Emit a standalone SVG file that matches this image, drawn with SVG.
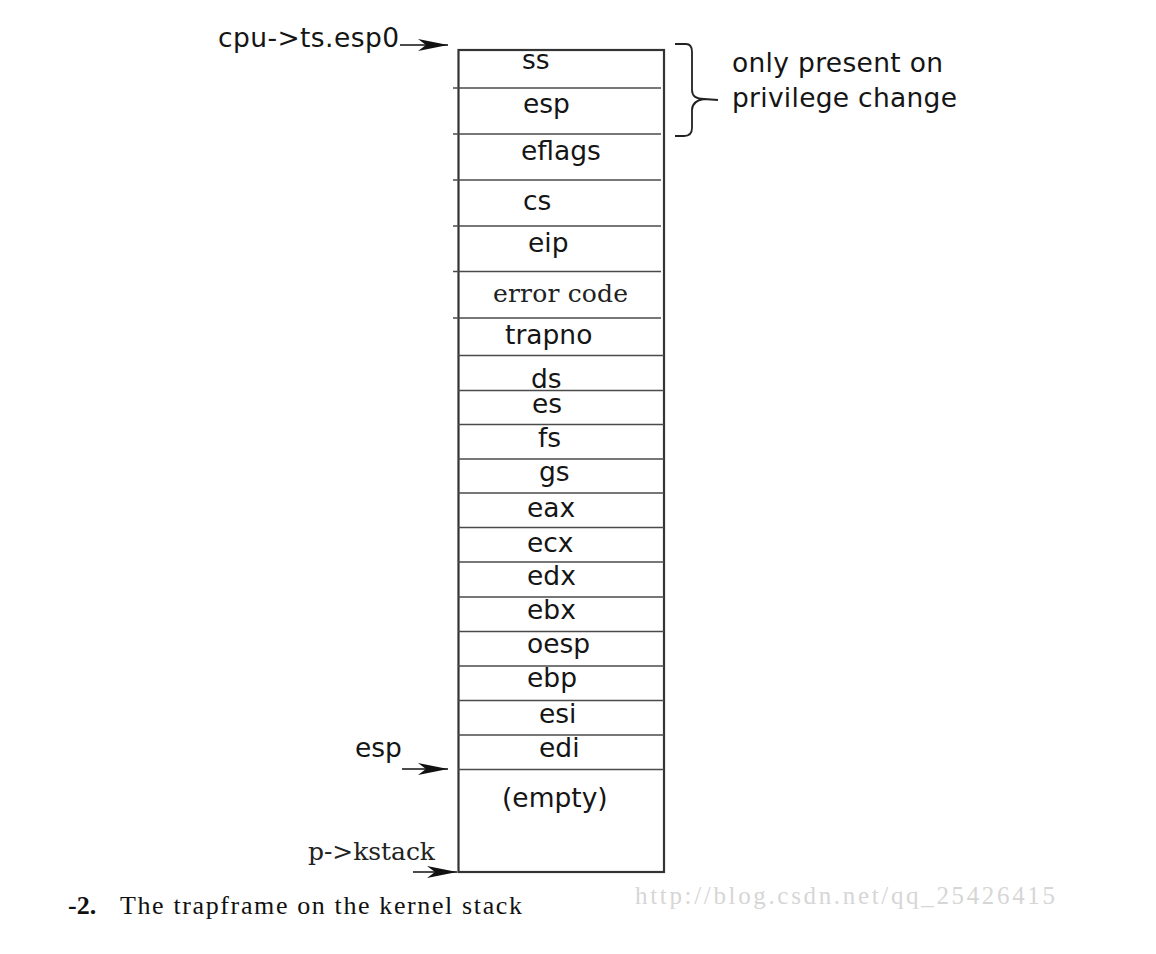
<svg xmlns="http://www.w3.org/2000/svg" width="1156" height="954" viewBox="0 0 1156 954">
<defs>
<style>
.t{font-family:"DejaVu Sans","Noto Sans",sans-serif;font-size:26.5px;fill:#151515}
.sep{stroke:#4a4a4a;stroke-width:1.4}
.box{fill:none;stroke:#333;stroke-width:2.2}
.arr{stroke:#111;stroke-width:1.6;fill:none}
.serif{font-family:"DejaVu Serif","Liberation Serif",serif;fill:#222}
</style>
<marker id="ah" viewBox="0 0 30 12" refX="30" refY="6" markerWidth="30" markerHeight="12" markerUnits="userSpaceOnUse" orient="auto">
<path d="M0,0 L30,6 L0,12 L8,6 Z" fill="#111"/>
</marker>
</defs>
<rect width="1156" height="954" fill="#fff"/>

<g id="stack">
<rect class="box" x="458.5" y="50" width="205.5" height="822"/>
<g id="row-ss"><text class="t" x="522" y="69">ss</text><line class="sep" x1="453" y1="88" x2="661" y2="88"/></g>
<g id="row-esp"><text class="t" x="523" y="113">esp</text><line class="sep" x1="453" y1="134" x2="661" y2="134"/></g>
<g id="row-eflags"><text class="t" x="521" y="160">eflags</text><line class="sep" x1="453" y1="180" x2="661" y2="180"/></g>
<g id="row-cs"><text class="t" x="523" y="210">cs</text><line class="sep" x1="453" y1="226" x2="661" y2="226"/></g>
<g id="row-eip"><text class="t" x="528" y="252">eip</text><line class="sep" x1="453" y1="271.5" x2="661" y2="271.5"/></g>
<g id="row-errorcode"><text class="serif" font-size="25" x="493" y="302" textLength="135" fill="#333">error code</text><line class="sep" x1="453" y1="318" x2="661" y2="318"/></g>
<g id="row-trapno"><text class="t" x="505" y="344">trapno</text><line class="sep" x1="458" y1="355.5" x2="664" y2="355.5"/></g>
<g id="row-ds"><text class="t" x="531" y="388">ds</text><line class="sep" x1="458" y1="390.5" x2="664" y2="390.5"/></g>
<g id="row-es"><text class="t" x="532" y="413">es</text><line class="sep" x1="458" y1="424.5" x2="664" y2="424.5"/></g>
<g id="row-fs"><text class="t" x="538" y="447">fs</text><line class="sep" x1="458" y1="459" x2="664" y2="459"/></g>
<g id="row-gs"><text class="t" x="539" y="481">gs</text><line class="sep" x1="458" y1="493" x2="664" y2="493"/></g>
<g id="row-eax"><text class="t" x="527" y="517">eax</text><line class="sep" x1="458" y1="527.5" x2="664" y2="527.5"/></g>
<g id="row-ecx"><text class="t" x="527" y="552">ecx</text><line class="sep" x1="458" y1="562" x2="664" y2="562"/></g>
<g id="row-edx"><text class="t" x="527" y="585">edx</text><line class="sep" x1="458" y1="597" x2="664" y2="597"/></g>
<g id="row-ebx"><text class="t" x="527" y="619">ebx</text><line class="sep" x1="458" y1="631.5" x2="664" y2="631.5"/></g>
<g id="row-oesp"><text class="t" x="527" y="653">oesp</text><line class="sep" x1="458" y1="666" x2="664" y2="666"/></g>
<g id="row-ebp"><text class="t" x="527" y="687">ebp</text><line class="sep" x1="458" y1="700.5" x2="664" y2="700.5"/></g>
<g id="row-esi"><text class="t" x="539" y="723">esi</text><line class="sep" x1="458" y1="735" x2="664" y2="735"/></g>
<g id="row-edi"><text class="t" x="539" y="757">edi</text><line class="sep" x1="458" y1="769.5" x2="664" y2="769.5"/></g>
<g id="row-empty"><text class="t" x="502" y="807">(empty)</text></g>
</g>

<g id="label-cpu"><text class="t" x="218" y="47" textLength="181">cpu-&gt;ts.esp0</text></g>
<g id="label-esp"><text class="t" x="355" y="757">esp</text></g>
<g id="label-kstack"><text class="serif" font-size="25" x="308" y="860" textLength="127" fill="#111">p-&gt;kstack</text></g>

<g id="note">
<path d="M675,44 L686,44 Q692,44 692,52 L692,90 Q692,99 704,99 L718,100 M704,99 Q692,101 692,110 L692,128 Q692,136 684,136 L675,136" fill="none" stroke="#222" stroke-width="1.8"/>
<text class="t" x="732" y="72" textLength="211">only present on</text>
<text class="t" x="732" y="107" textLength="225">privilege change</text>
</g>

<g id="connectors">
<line class="arr" x1="400" y1="45" x2="448" y2="45" marker-end="url(#ah)"/>
<line class="arr" x1="402" y1="769" x2="448" y2="769" marker-end="url(#ah)"/>
<line class="arr" x1="413" y1="872" x2="457" y2="872" marker-end="url(#ah)"/>
</g>

<g id="caption">
<text x="68" y="914" font-family="'Liberation Serif',serif" font-size="26" fill="#111"><tspan font-weight="bold">-2.</tspan><tspan x="120" textLength="402">The trapframe on the kernel stack</tspan></text>
</g>
<g id="watermark"><text x="635" y="904" font-family="'Liberation Serif',serif" font-size="25" fill="#d6d6d6" textLength="420">http://blog.csdn.net/qq_25426415</text></g>
</svg>
